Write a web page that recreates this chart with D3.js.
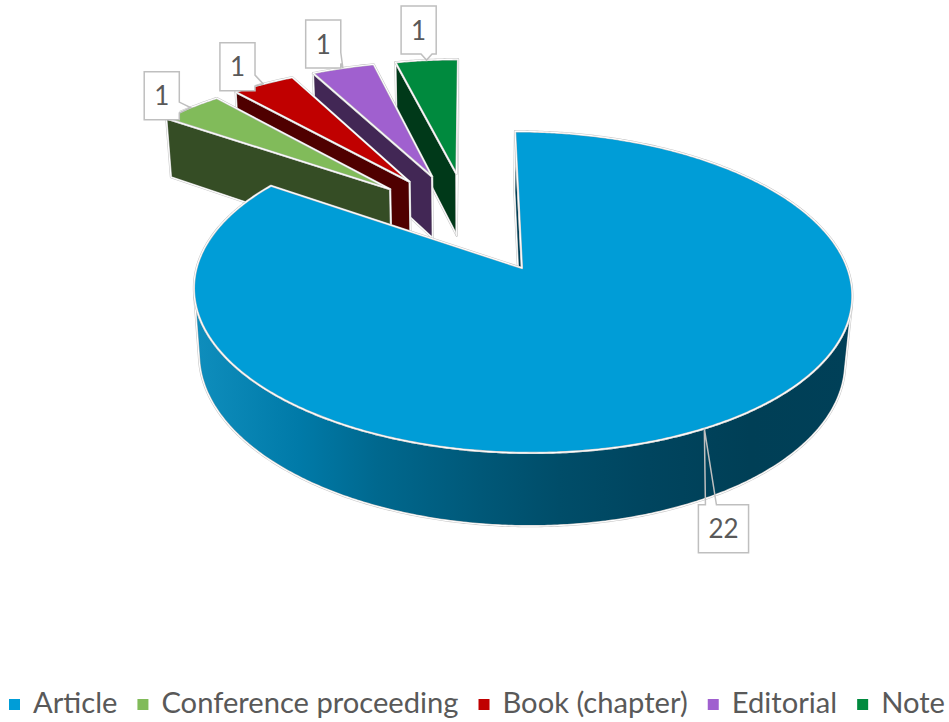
<!DOCTYPE html>
<html>
<head>
<meta charset="utf-8">
<script src="https://cdn.jsdelivr.net/npm/d3@7"></script>
<style>
  html, body { margin: 0; padding: 0; background: #fff; }
  svg { display: block; }
</style>
</head>
<body>
<svg id="chart" width="949" height="722"></svg>
<script>
// Publication types and how many documents of each type
const categories = ["Article", "Conference proceeding", "Book (chapter)", "Editorial", "Note"];
const counts = [22, 1, 1, 1, 1];
const colors = ["#009DD7", "#81BB5A", "#C00000", "#A060CF", "#008A3E"];

const W = 949, H = 722;
const svg = d3.select("#chart");
const defs = svg.append("defs");

const color = d3.scaleOrdinal().domain(categories).range(colors);

// ---- 3D camera -----------------------------------------------------------
// The pie is a disc of radius 1 lying in the z = 0 plane, extruded downwards.
// The camera looks at the disc centre from an elevated position with perspective.
const tilt = Math.asin(0.4617);
const camDist = 6.2;
const focal = 1928;
const originX = 469, originY = 221.5;   // screen position of the disc centre
const explode = 0.35;                    // every slice pulled out by this much
const thickness = 0.235;
const cosT = Math.cos(tilt), sinT = Math.sin(tilt);
const cam = [0, camDist * cosT, camDist * sinT];

function project(X, Y, Z) {
  const depth = camDist - Y * cosT - Z * sinT;
  return [originX + focal * X / depth, originY + focal * (Y * sinT - Z * cosT) / depth];
}
const facing = (nx, ny, px, py) => nx * (cam[0] - px) + ny * (cam[1] - py) > 0;
const shade = (c, k) => { const r = d3.rgb(c); return d3.rgb(r.r * k, r.g * k, r.b * k).formatHex(); };
const line = d3.line().curve(d3.curveLinearClosed);

const pie = d3.pie().sort(null).value(d => d.value);
const arcs = pie(categories.map((name, i) => ({ name, value: counts[i] })));

const slices = arcs.map((a, i) => {
  const mid = (a.startAngle + a.endAngle) / 2;
  const sx = explode * Math.sin(mid), sy = -explode * Math.cos(mid);
  const span = a.endAngle - a.startAngle;
  const n = Math.max(4, Math.ceil(span / (Math.PI / 360)));
  const rim = d3.range(n + 1).map(j => {
    const t = a.startAngle + span * j / n;
    return { t, X: sx + Math.sin(t), Y: sy - Math.cos(t) };
  });
  return { a, i, name: a.data.name, col: color(a.data.name), mid, sx, sy, rim };
});

const chart = svg.append("g");

function drawFace(pts, fill) {
  const d = line(pts);
  chart.append("path").attr("d", d).attr("fill", fill)
    .attr("stroke", "#c6c6c6").attr("stroke-width", 2.2).attr("stroke-linejoin", "round");
  chart.append("path").attr("d", d).attr("fill", "none")
    .attr("stroke", "#ffffff").attr("stroke-width", 1.1).attr("stroke-linejoin", "round");
}

// far slices first, nearest last
const order = slices.slice().sort((p, q) => p.sy - q.sy);

order.forEach(s => {
  const h = -thickness;
  const apexTop = project(s.sx, s.sy, 0), apexBot = project(s.sx, s.sy, h);
  const top = s.rim.map(p => project(p.X, p.Y, 0));
  const bot = s.rim.map(p => project(p.X, p.Y, h));
  const side = shade(s.col, 0.41);

  // radial walls
  const t0 = s.a.startAngle, t1 = s.a.endAngle;
  if (facing(-Math.cos(t0), -Math.sin(t0), s.sx, s.sy))
    drawFace([apexTop, top[0], bot[0], apexBot], side);
  if (facing(Math.cos(t1), Math.sin(t1), s.sx, s.sy))
    drawFace([apexTop, top[top.length - 1], bot[bot.length - 1], apexBot], side);

  // curved outer wall: only the runs that face the camera
  const xs = top.map(p => p[0]);
  const gid = "wall" + s.i;
  const g = defs.append("linearGradient").attr("id", gid)
    .attr("gradientUnits", "userSpaceOnUse")
    .attr("x1", d3.min(xs)).attr("x2", d3.max(xs)).attr("y1", 0).attr("y2", 0);
  [[0, 0.86, 0.06], [0.16, 0.78, 0], [0.28, 0.66, 0], [0.435, 0.56, 0],
   [0.555, 0.49, 0], [0.69, 0.44, 0], [0.845, 0.40, 0], [1, 0.41, 0]].forEach(([o, k, w]) => {
    g.append("stop").attr("offset", o)
      .attr("stop-color", d3.interpolateRgb(shade(s.col, k), "#ffffff")(w));
  });
  let run = [];
  const flush = () => {
    if (run.length > 1) {
      const pts = run.map(j => top[j]).concat(run.slice().reverse().map(j => bot[j]));
      drawFace(pts, `url(#${gid})`);
    }
    run = [];
  };
  for (let j = 0; j < s.rim.length - 1; j++) {
    const tm = (s.rim[j].t + s.rim[j + 1].t) / 2;
    const px = (s.rim[j].X + s.rim[j + 1].X) / 2, py = (s.rim[j].Y + s.rim[j + 1].Y) / 2;
    if (facing(Math.sin(tm), -Math.cos(tm), px, py)) {
      if (!run.length) run.push(j);
      run.push(j + 1);
    } else flush();
  }
  flush();

  // top face
  drawFace([apexTop].concat(top), s.col);
});

// ---- data callouts --------------------------------------------------------
const labelFont = "Lato, 'Open Sans', 'DejaVu Sans', sans-serif";
const labels = svg.append("g");

function calloutPath(L, T, R, B, tip) {
  const [tx, ty] = tip;
  const dxOut = Math.max(L - tx, 0, tx - R), dyOut = Math.max(T - ty, 0, ty - B);
  const w = 5.5;
  const clampX = v => Math.max(L + Math.min(14, (R - L) / 4), Math.min(R - Math.min(14, (R - L) / 4), v));
  const clampY = v => Math.max(T + 10, Math.min(B - 10, v));
  let side;
  if (dyOut >= dxOut) side = ty < T ? "top" : "bottom";
  else side = tx < L ? "left" : "right";
  const p = d3.path();
  p.moveTo(L, T);
  if (side === "top") { const c = clampX(tx); p.lineTo(c - w, T); p.lineTo(tx, ty); p.lineTo(c + w, T); }
  p.lineTo(R, T);
  if (side === "right") { const c = clampY(ty); p.lineTo(R, c - w); p.lineTo(tx, ty); p.lineTo(R, c + w); }
  p.lineTo(R, B);
  if (side === "bottom") { const c = clampX(tx); p.lineTo(c + w, B); p.lineTo(tx, ty); p.lineTo(c - w, B); }
  p.lineTo(L, B);
  if (side === "left") { const c = clampY(ty); p.lineTo(L, c + w); p.lineTo(tx, ty); p.lineTo(L, c - w); }
  p.closePath();
  return p.toString();
}

slices.forEach(s => {
  const tipW = { X: s.sx + Math.sin(s.mid), Y: s.sy - Math.cos(s.mid) };
  const tip = project(tipW.X, tipW.Y, 0);
  const apex = project(s.sx, s.sy, 0);

  const txt = labels.append("text")
    .attr("font-family", labelFont).attr("font-size", 26).attr("fill", "#595959")
    .attr("text-anchor", "middle").text(s.a.value);
  const tw = txt.node().getComputedTextLength();
  const bw = tw + 20, bh = 48;

  let cx, cy;
  if (Math.cos(s.mid) < 0) {
    // front of the pie: hang the label below the outer wall
    const pb = project(tipW.X, tipW.Y, -thickness);
    cx = pb[0] + 24 * Math.sign(Math.sin(s.mid) || 1);
    cy = pb[1] + 4 + bh / 2;
  } else {
    const dx = tip[0] - apex[0], dy = tip[1] - apex[1];
    const len = Math.hypot(dx, dy);
    cx = tip[0] + dx / len * 31;
    cy = tip[1] + dy / len * 31;
  }
  const L = cx - bw / 2, T = cy - bh / 2, R = cx + bw / 2, B = cy + bh / 2;
  labels.insert("rect", "text").attr("x", L).attr("y", T).attr("width", bw).attr("height", bh).attr("fill", "#fff");
  labels.insert("path", "text").attr("d", calloutPath(L, T, R, B, tip))
    .attr("fill", "none").attr("stroke", "#bfbfbf").attr("stroke-width", 1.5);
  txt.attr("x", cx).attr("y", cy + 9.5);
});

// ---- legend ---------------------------------------------------------------
const legendFont = "Lato, 'Open Sans', 'DejaVu Sans', sans-serif";
const legendBase = 713, legendLeft = 9, legendRight = W - 4;
const markerW = 11, markerGap = 13, itemGap = 20;
const legend = svg.append("g");
const items = legend.selectAll("g").data(categories).join("g");
items.append("rect").attr("width", markerW).attr("height", markerW)
  .attr("y", legendBase - 14).attr("fill", d => color(d));
const texts = items.append("text")
  .attr("y", legendBase).attr("font-family", legendFont).attr("font-size", 28)
  .attr("fill", "#595959").text(d => d);
const widths = texts.nodes().map(n => n.getComputedTextLength());
const fixed = categories.length * (markerW + markerGap) + (categories.length - 1) * itemGap;
const fit = (legendRight - legendLeft - fixed) / d3.sum(widths);
let xPos = legendLeft;
items.each(function (d, i) {
  const g = d3.select(this);
  g.select("rect").attr("x", xPos);
  const tw = widths[i] * fit;
  g.select("text").attr("x", xPos + markerW + markerGap)
    .attr("textLength", tw).attr("lengthAdjust", "spacingAndGlyphs");
  xPos += markerW + markerGap + tw + itemGap;
});
</script>
</body>
</html>
